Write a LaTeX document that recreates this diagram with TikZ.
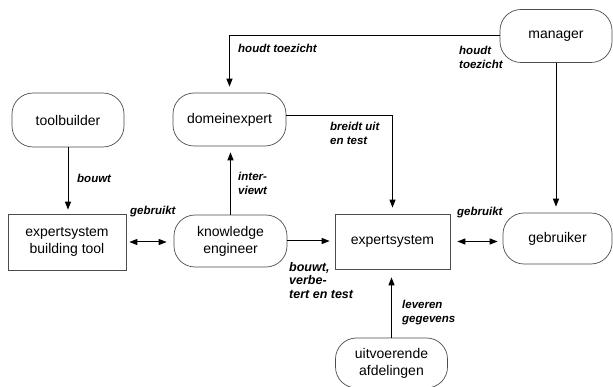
\documentclass[tikz,border=0pt]{standalone}
\usepackage{fontspec}
\setmainfont{Liberation Sans}
\usetikzlibrary{arrows.meta}
\begin{document}
\begin{tikzpicture}[x=1pt,y=-1pt,
  nodetext/.style={font=\fontsize{14}{17}\selectfont, align=center, inner sep=0pt},
  rbox/.style={nodetext, draw=black!70, line width=0.7pt, rounded corners=21pt},
  sbox/.style={nodetext, draw=black!70, line width=0.7pt},
  lbl/.style={font=\fontsize{11.5}{14}\selectfont\bfseries\itshape, align=left, inner sep=0pt},
  arr/.style={line width=1pt, -{Triangle[length=8pt,width=6pt]}, shorten >=6pt},
  dbl/.style={line width=1pt, {Triangle[length=8pt,width=6pt]}-{Triangle[length=8pt,width=6pt]}}
]
\useasboundingbox (0,0) rectangle (613,387);
\fill[white] (0,0) rectangle (613,387);

\node[rbox, minimum width=112pt, minimum height=53pt] (manager) at (556,36) {manager};
\node[rbox, minimum width=112pt, minimum height=54pt] (toolbuilder) at (68,120) {toolbuilder};
\node[rbox, minimum width=113pt, minimum height=53pt] (domein) at (229.5,119.5) {domeinexpert};
\node[sbox, minimum width=118pt, minimum height=56pt] (ebtool) at (67,242) {expertsystem\\building tool};
\node[rbox, minimum width=113pt, minimum height=52pt] (ke) at (230.5,241) {knowledge\\engineer};
\node[sbox, minimum width=115pt, minimum height=55pt] (es) at (392.5,241.5) {expertsystem};
\node[rbox, minimum width=109pt, minimum height=51pt] (gebruiker) at (557.5,238.5) {gebruiker};
\node[rbox, minimum width=112pt, minimum height=50pt] (uitv) at (391.5,363) {uitvoerende\\afdelingen};

% manager -> domeinexpert
\draw[arr] (manager.west) -| (domein.north);
% manager -> gebruiker
\draw[arr] (manager.south) -- (manager.south |- gebruiker.north);
% toolbuilder -> building tool
\draw[arr, shorten >=4pt] (toolbuilder.south) -- (toolbuilder.south |- ebtool.north);
% knowledge engineer -> domeinexpert
\draw[arr] (ke.north) -- (ke.north |- domein.south);
% domeinexpert -> expertsystem
\draw[arr] ([yshift=4pt]domein.east) -| (es.north);
% building tool <-> knowledge engineer
\draw[dbl, shorten <=3pt, shorten >=7pt] (ebtool.east) -- (ebtool.east -| ke.west);
% knowledge engineer -> expertsystem
\draw[arr, shorten >=5pt] (ke.east) -- (ke.east -| es.west);
% expertsystem <-> gebruiker
\draw[dbl, shorten <=7pt, shorten >=5pt] (es.east) -- (es.east -| gebruiker.west);
% uitvoerende -> expertsystem
\draw[arr, shorten >=8pt] (uitv.north) -- (uitv.north |- es.south);

% labels
\node[lbl, anchor=west] (l1) at (238,48) {houdt toezicht};
\node[lbl, anchor=north west] (l2) at (459,46) {houdt\\toezicht};
\node[lbl, anchor=west] (l3) at (77,178) {bouwt};
\node[lbl, anchor=north west] (l4) at (238,172) {inter-\\viewt};
\node[lbl, anchor=north west] (l5) at (330,122) {breidt uit\\en test};
\node[lbl, anchor=west] (l6) at (130,212) {gebruikt};
\node[lbl, anchor=west] (l7) at (457,213) {gebruikt};
\node[lbl, anchor=north west, font=\fontsize{12.5}{13.5}\selectfont\bfseries\itshape] (l8) at (289,262) {bouwt,\\verbe-\\tert en test};
\node[lbl, anchor=north west] (l9) at (402,300) {leveren\\gegevens};
\end{tikzpicture}
\end{document}
